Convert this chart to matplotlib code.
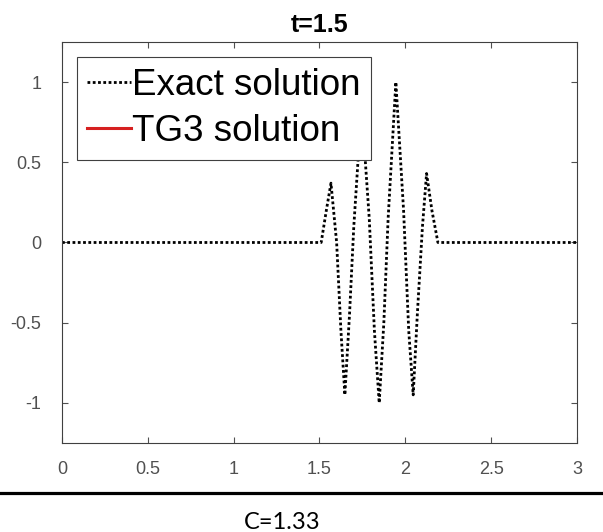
import numpy as np
import matplotlib.pyplot as plt
from matplotlib.lines import Line2D

plt.rcParams['font.family'] = ['Liberation Sans', 'DejaVu Sans']

# exact solution (vertices of the wave packet)
x_exact = [0.0, 1.51, 1.54, 1.567, 1.60, 1.625, 1.648, 1.675, 1.70, 1.745, 1.79, 1.82,
           1.848, 1.875, 1.90, 1.945, 1.99, 2.02, 2.046, 2.07, 2.10, 2.124, 2.155, 2.19, 3.0]
y_exact = [0.0, 0.0, 0.2, 0.37, 0.0, -0.55, -0.95, -0.45, 0.1, 0.85, 0.15, -0.55,
           -1.0, -0.5, 0.15, 1.0, 0.2, -0.55, -0.95, -0.45, 0.1, 0.43, 0.2, 0.0, 0.0]

title = 't=1.5'
caption = 'C=1.33'
x_ticks = [0, 0.5, 1, 1.5, 2, 2.5, 3]
y_ticks = [-1, -0.5, 0, 0.5, 1]

fig = plt.figure(figsize=(6.03, 5.32), dpi=100)
ax = fig.add_axes([0.1028, 0.1673, 0.854, 0.7538])

ax.plot(x_exact, y_exact, color='black', lw=2.0, linestyle=(0, (1, 0.9)),
        label='Exact solution')
ax.plot([], [], color='#d62020', lw=2.2, label='TG3 solution')

ax.set_xlim(0, 3)
ax.set_ylim(-1.25, 1.25)
ax.set_xticks(x_ticks)
ax.set_xticklabels(['0', '0.5', '1', '1.5', '2', '2.5', '3'])
ax.set_yticks(y_ticks)
ax.set_yticklabels(['-1', '-0.5', '0', '0.5', '1'])
ax.tick_params(direction='in', length=4, width=0.8, top=True, right=True,
               labelsize=13, colors='#505050')
ax.tick_params(axis='x', pad=13)
ax.tick_params(axis='y', pad=15)
for s in ax.spines.values():
    s.set_color('#404040')
    s.set_linewidth(0.8)

ax.set_title(title, fontsize=18, fontweight='bold', pad=7)

leg = ax.legend(loc='upper left', bbox_to_anchor=(0.029, 0.962), fontsize=26.5,
                handlelength=1.2, handletextpad=0.03, borderpad=0.28,
                labelspacing=0.32, borderaxespad=0, fancybox=False, framealpha=1)
leg.get_frame().set_edgecolor('#404040')
leg.get_frame().set_linewidth(0.8)

fig.add_artist(Line2D([0, 1], [0.0733, 0.0733], color='black', lw=2.3,
                      transform=fig.transFigure))
fig.text(0.468, 0.017, caption, ha='center', va='center', fontsize=17,
         family=['Lato', 'DejaVu Sans'])

fig.savefig('out.png', dpi=100)
